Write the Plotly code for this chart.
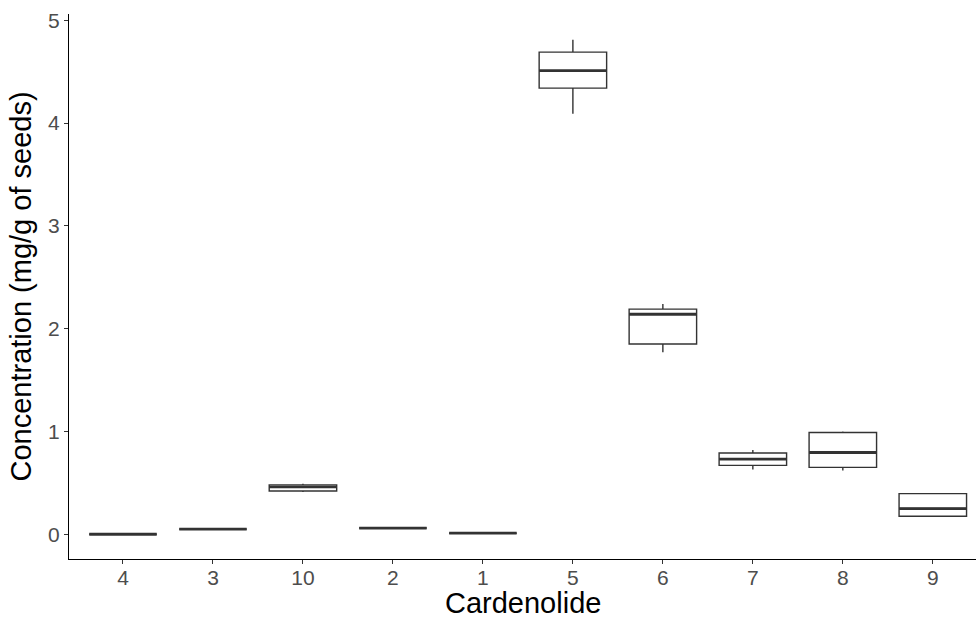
import plotly.graph_objects as go

categories = ["4", "3", "10", "2", "1", "5", "6", "7", "8", "9"]
lower = [0.0, 0.05, 0.41, 0.06, 0.01, 4.09, 1.77, 0.63, 0.62, 0.17]
q1 = [0.0, 0.05, 0.42, 0.06, 0.01, 4.34, 1.85, 0.67, 0.65, 0.175]
median = [0.0, 0.05, 0.46, 0.06, 0.01, 4.51, 2.14, 0.73, 0.795, 0.25]
q3 = [0.0, 0.05, 0.48, 0.06, 0.01, 4.69, 2.19, 0.79, 0.99, 0.395]
upper = [0.0, 0.05, 0.49, 0.06, 0.01, 4.81, 2.24, 0.82, 1.0, 0.40]

pos = list(range(1, len(categories) + 1))
col = "#333333"
fig = go.Figure()
fig.add_trace(go.Box(
    x=pos, q1=q1, median=median, q3=q3, lowerfence=lower, upperfence=upper,
    width=0.75, whiskerwidth=0, fillcolor="white",
    line=dict(color=col, width=1.4), boxpoints=False, hoverinfo="skip",
))
# thicker median lines as in ggplot
for p, m in zip(pos, median):
    fig.add_trace(go.Scatter(x=[p - 0.375, p + 0.375], y=[m, m], mode="lines",
                             line=dict(color=col, width=2.8), hoverinfo="skip"))

fig.update_layout(
    width=976, height=621,
    margin=dict(l=69, r=0, t=14, b=62),
    plot_bgcolor="white", paper_bgcolor="white",
    showlegend=False,
    font=dict(family="Liberation Sans, Arial, sans-serif", color="black"),
    xaxis=dict(
        range=[0.4, 10.48], tickvals=pos, ticktext=categories,
        showline=True, linecolor="black", linewidth=1.2,
        ticks="outside", ticklen=4, tickcolor="#333333", tickwidth=1.2,
        ticklabelstandoff=-4,
        showgrid=False, zeroline=False,
        tickfont=dict(size=21, color="#4D4D4D"),
    ),
    yaxis=dict(
        range=[-0.241, 5.061], tickvals=[0, 1, 2, 3, 4, 5],
        showline=True, linecolor="black", linewidth=1.2,
        ticks="outside", ticklen=4, tickcolor="#333333", tickwidth=1.2,
        showgrid=False, zeroline=False,
        tickfont=dict(size=21, color="#4D4D4D"),
        title=dict(text="Concentration (mg/g of seeds)", font=dict(size=29), standoff=7),
    ),
    annotations=[dict(
        text="Cardenolide", xref="paper", yref="paper", x=0.5, y=-0.1138,
        xanchor="center", yanchor="bottom", showarrow=False,
        font=dict(size=29, color="black"),
    )],
)
fig.write_html("out.html", config={"displayModeBar": False},
               post_script="document.body.style.margin='0';document.body.style.overflow='hidden';")
